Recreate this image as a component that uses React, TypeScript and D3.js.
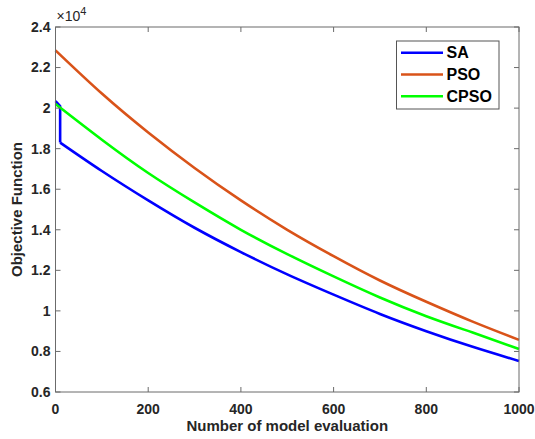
import * as d3 from 'd3'

const WIDTH = 535
const HEIGHT = 439
const MARGIN = { top: 27, right: 16, bottom: 47, left: 55.5 }

const X_TICKS = [0, 200, 400, 600, 800, 1000]
const Y_TICKS = [0.6, 0.8, 1, 1.2, 1.4, 1.6, 1.8, 2, 2.2, 2.4]

// values in units of 10^4
// SA: short flat start, sudden drop at ~10 evaluations, then smooth decay
const SA_HEAD_X = [0, 10, 10]
const SA_HEAD_Y = [2.035, 2.01, 1.83]
const SA_X = [10, 100, 200, 300, 400, 500, 600, 700, 800, 900, 1000]
const SA_Y = [1.83, 1.69, 1.545, 1.41, 1.29, 1.18, 1.08, 0.985, 0.9, 0.823, 0.753]

const PSO_X = [0, 100, 200, 300, 400, 500, 600, 700, 800, 900, 1000]
const PSO_Y = [2.285, 2.072, 1.88, 1.705, 1.545, 1.4, 1.27, 1.15, 1.045, 0.947, 0.857]

const CPSO_X = [0, 100, 200, 300, 400, 500, 600, 700, 800, 900, 1000]
const CPSO_Y = [2.02, 1.844, 1.68, 1.535, 1.4, 1.28, 1.17, 1.066, 0.974, 0.893, 0.812]

const SERIES = [
  { name: 'SA', head: { xs: SA_HEAD_X, ys: SA_HEAD_Y }, xs: SA_X, ys: SA_Y, color: '#0000FF' },
  { name: 'PSO', head: null, xs: PSO_X, ys: PSO_Y, color: '#D95319' },
  { name: 'CPSO', head: null, xs: CPSO_X, ys: CPSO_Y, color: '#00FF00' }
]

const FONT = 'Arial, "Liberation Sans", Helvetica, sans-serif'
const AXIS_COLOR = '#6b6b6b'
const TEXT_COLOR = '#262626'

type Pt = [number, number]

export default function App() {
  const innerWidth = WIDTH - MARGIN.left - MARGIN.right
  const innerHeight = HEIGHT - MARGIN.top - MARGIN.bottom

  const xScale = d3.scaleLinear().domain([0, 1000]).range([0, innerWidth])
  const yScale = d3.scaleLinear().domain([0.6, 2.4]).range([innerHeight, 0])

  const smooth = d3.line<Pt>()
    .x(d => xScale(d[0]))
    .y(d => yScale(d[1]))
    .curve(d3.curveNatural)

  const straight = d3.line<Pt>()
    .x(d => xScale(d[0]))
    .y(d => yScale(d[1]))

  const zip = (xs: number[], ys: number[]) => xs.map((x, i) => [x, ys[i]] as Pt)

  const tickLen = 5

  return (
    <svg width={WIDTH} height={HEIGHT} style={{ position: 'absolute', left: 0, top: 0, background: '#fff' }}>
      <g transform={`translate(${MARGIN.left}, ${MARGIN.top})`} fontFamily={FONT}>
        {/* Series */}
        {SERIES.map(s => (
          <g key={s.name}>
            {s.head && (
              <path
                d={straight(zip(s.head.xs, s.head.ys)) || ''}
                fill="none"
                stroke={s.color}
                strokeWidth={2.6}
                strokeLinejoin="round"
              />
            )}
            <path
              d={smooth(zip(s.xs, s.ys)) || ''}
              fill="none"
              stroke={s.color}
              strokeWidth={2.6}
              strokeLinejoin="round"
            />
          </g>
        ))}

        {/* Box */}
        <rect x={0} y={0} width={innerWidth} height={innerHeight} fill="none" stroke={AXIS_COLOR} strokeWidth={1} />

        {/* X ticks */}
        {X_TICKS.map(t => (
          <g key={`x-${t}`}>
            <line x1={xScale(t)} x2={xScale(t)} y1={innerHeight} y2={innerHeight - tickLen} stroke={AXIS_COLOR} />
            <line x1={xScale(t)} x2={xScale(t)} y1={0} y2={tickLen} stroke={AXIS_COLOR} />
            <text x={xScale(t)} y={innerHeight + 22} textAnchor="middle" fontSize={14} fontWeight="bold" fill={TEXT_COLOR}>
              {t}
            </text>
          </g>
        ))}

        {/* Y ticks */}
        {Y_TICKS.map(t => (
          <g key={`y-${t}`}>
            <line x1={0} x2={tickLen} y1={yScale(t)} y2={yScale(t)} stroke={AXIS_COLOR} />
            <line x1={innerWidth} x2={innerWidth - tickLen} y1={yScale(t)} y2={yScale(t)} stroke={AXIS_COLOR} />
            <text x={-5} y={yScale(t)} dy="0.35em" textAnchor="end" fontSize={14} fontWeight="bold" fill={TEXT_COLOR}>
              {t}
            </text>
          </g>
        ))}

        {/* Exponent */}
        <text x={1} y={-6} fontSize={14} fill={TEXT_COLOR}>
          ×10<tspan fontSize={11} dy={-6}>4</tspan>
        </text>

        {/* Axis titles */}
        <text x={innerWidth / 2} y={innerHeight + 39} textAnchor="middle" fontSize={15} fontWeight="bold" fill={TEXT_COLOR}>
          Number of model evaluation
        </text>
        <text
          transform={`translate(${-34}, ${innerHeight / 2}) rotate(-90)`}
          textAnchor="middle"
          fontSize={15}
          fontWeight="bold"
          fill={TEXT_COLOR}
        >
          Objective Function
        </text>

        {/* Legend */}
        <g transform={`translate(${396.5 - MARGIN.left}, ${41 - MARGIN.top})`}>
          <rect x={0} y={0} width={102.5} height={68} fill="#fff" stroke="#555" strokeWidth={1} />
          {SERIES.map((s, i) => (
            <g key={`leg-${s.name}`} transform={`translate(0, ${11.7 + i * 21.8})`}>
              <line x1={4.5} x2={46.5} y1={0} y2={0} stroke={s.color} strokeWidth={2.6} />
              <text x={50} y={0} dy="0.36em" fontSize={16} fontWeight="bold" fill="#000">
                {s.name}
              </text>
            </g>
          ))}
        </g>
      </g>
    </svg>
  )
}
